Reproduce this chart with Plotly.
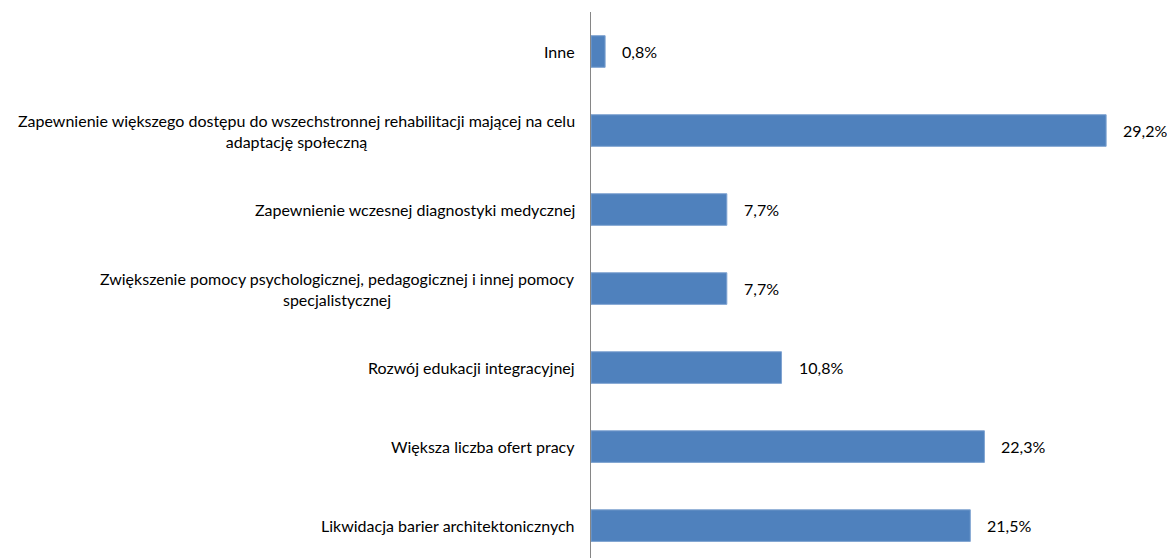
import plotly.graph_objects as go

categories = [
    "Inne",
    "Zapewnienie większego dostępu do wszechstronnej rehabilitacji mającej na celu<br>adaptację społeczną",
    "Zapewnienie wczesnej diagnostyki medycznej",
    "Zwiększenie pomocy psychologicznej, pedagogicznej i innej pomocy<br>specjalistycznej",
    "Rozwój edukacji integracyjnej",
    "Większa liczba ofert pracy",
    "Likwidacja barier architektonicznych",
]
values = [0.8, 29.2, 7.7, 7.7, 10.8, 22.3, 21.5]
value_labels = ["0,8%", "29,2%", "7,7%", "7,7%", "10,8%", "22,3%", "21,5%"]

FONT = "Lato"

fig = go.Figure()
fig.add_trace(go.Bar(
    y=categories, x=values, orientation="h", width=0.4,
    marker=dict(color="#4F81BD", line=dict(color="#7FA3D1", width=1)),
    hoverinfo="skip",
))

for c, v, t in zip(categories, values, value_labels):
    fig.add_annotation(x=v, y=c, xref="x", yref="y", text=t, showarrow=False,
                       xanchor="left", xshift=15, font=dict(family=FONT, size=16, color="#000000"))
    fig.add_annotation(x=0, y=c, xref="paper", yref="y", text=c, showarrow=False,
                       xanchor="right", align="center", xshift=-14,
                       font=dict(family=FONT, size=16, color="#000000"))

fig.update_layout(
    width=1167, height=558,
    margin=dict(l=591, r=0, t=12, b=0),
    paper_bgcolor="white", plot_bgcolor="white",
    showlegend=False,
    bargap=0.6,
    xaxis=dict(range=[0, 32.65], showgrid=False, zeroline=False, showticklabels=False,
               showline=False, fixedrange=True),
    yaxis=dict(categoryorder="array", categoryarray=categories, range=[6.41, -0.5],
               showgrid=False, zeroline=False, showticklabels=False, ticks="",
               showline=True, linecolor="#868686", linewidth=1, fixedrange=True),
)

fig.write_html(
    "out.html",
    config={"displayModeBar": False},
    post_script="document.body.style.margin='0';document.body.style.overflow='hidden';",
)
